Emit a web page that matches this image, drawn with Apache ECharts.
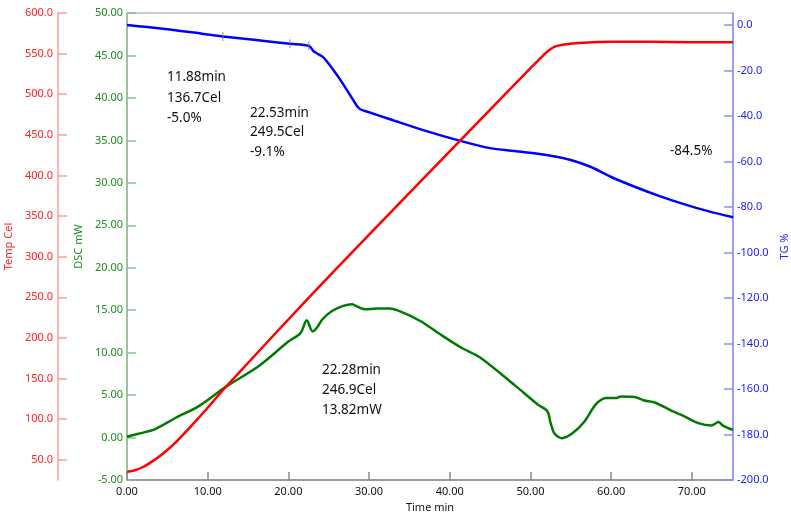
<!DOCTYPE html>
<html>
<head>
<meta charset="utf-8">
<script src="https://cdn.jsdelivr.net/npm/echarts@6/dist/echarts.min.js"></script>
<style>
  html, body { margin: 0; padding: 0; background: #fff; }
  #chart { width: 791px; height: 518px; }
</style>
</head>
<body>
<div id="chart"></div>
<script>
// Temperature (Cel) vs time
const tempTime = [0, 1, 2, 3, 4, 5, 6, 8, 10, 12, 22.53, 30, 41.4, 50, 51.5, 52.3, 53, 54, 56, 60, 65, 70, 75.1];
const tempVal = [35, 37, 41, 47, 54, 62, 71, 92, 114, 137, 249.5, 327, 444, 532, 547, 554, 558.5, 561, 563, 564.5, 564.5, 564, 564];

// DSC (mW) vs time
const dscTime = [0, 1.4, 3.5, 6, 8.9, 12.2, 16.3, 20, 21.5, 22.28, 23.0, 23.5, 24.2, 25.4, 26.8, 27.9, 28.6, 29.5, 31, 32.5, 34, 36.4, 38.9, 41.4, 43.8, 48, 50.9, 52.1, 52.5, 53, 53.9, 55.2, 56.7, 58.1, 59.4, 60.6, 61.2, 62.9, 64.1, 65.4, 67.5, 68.7, 70.8, 72.4, 72.8, 73.3, 73.9, 75.1];
const dscVal = [0.1, 0.44, 1.0, 2.3, 3.7, 5.95, 8.4, 11.3, 12.3, 13.82, 12.5, 12.9, 13.9, 14.9, 15.5, 15.7, 15.4, 15.1, 15.2, 15.2, 14.8, 13.7, 12.1, 10.6, 9.4, 6.2, 3.9, 3.1, 1.7, 0.44, -0.07, 0.5, 1.9, 3.9, 4.65, 4.65, 4.84, 4.77, 4.37, 4.13, 3.15, 2.68, 1.7, 1.42, 1.58, 1.82, 1.38, 0.9];

// TG (%) vs time
const tgTime = [0, 2.5, 5.3, 8, 11.88, 16, 20.2, 22.53, 23.1, 23.5, 24.3, 24.9, 25.6, 26.4, 27.2, 27.9, 28.5, 28.9, 29.7, 32.6, 36.7, 41.3, 45.0, 48, 52, 55, 57.5, 60, 63, 66, 69, 72, 75.1];
const tgVal = [0.0, -0.9, -2.0, -3.2, -5.0, -6.6, -8.2, -9.1, -11.4, -12.4, -14.1, -16.6, -19.9, -23.9, -28.3, -32.2, -35.6, -37.0, -38.0, -41.4, -46.2, -50.9, -54.1, -55.4, -57.1, -59.3, -62.4, -66.8, -71.2, -75.2, -78.7, -81.8, -84.5];

// step markers on the TG curve
const tgMarkTime = [11.88, 20.2, 22.53];
const tgMarkVal = [-5.0, -8.2, -9.1];

// tick labels
const timeTicks = [0, 10, 20, 30, 40, 50, 60, 70];
const tempTicks = [50, 100, 150, 200, 250, 300, 350, 400, 450, 500, 550, 600];
const tgTicks = [-200, -180, -160, -140, -120, -100, -80, -60, -40, -20, 0];

const FONT = "Noto Sans";
const pairs = (xs, ys) => xs.map((x, i) => [x, ys[i]]);

const chart = echarts.init(document.getElementById("chart"));

chart.setOption({
  animation: false,
  backgroundColor: "#fff",
  textStyle: { fontFamily: FONT },
  grid: {
    left: 127, right: 58, top: 13, bottom: 38,
    outerBoundsMode: "none",
    show: true, borderColor: "#9a9a9a", borderWidth: 1, backgroundColor: "transparent",
  },
  xAxis: {
    type: "value",
    min: 0, max: 75.1,
    name: "Time min",
    nameLocation: "middle",
    nameGap: 19,
    nameTextStyle: { color: "#111", fontSize: 11, fontFamily: FONT },
    axisLine: { show: true, onZero: false, lineStyle: { color: "#8a8a8a", width: 1.5 } },
    axisTick: { show: true, inside: true, length: 8, customValues: timeTicks, lineStyle: { color: "#8a8a8a", width: 1.5 } },
    axisLabel: {
      color: "#111", fontSize: 11, fontFamily: FONT, margin: 6,
      customValues: timeTicks,
      formatter: (v) => v.toFixed(2),
    },
    splitLine: { show: false },
  },
  yAxis: [
    {
      // DSC
      type: "value",
      position: "left",
      min: -5, max: 50, interval: 5,
      name: "DSC mW",
      nameLocation: "middle",
      nameRotate: 90,
      nameGap: 42,
      nameTextStyle: { color: "#1e8c1e", fontSize: 11, fontFamily: FONT },
      axisLine: { show: true, onZero: false, lineStyle: { color: "#88c488", width: 1.5 } },
      axisTick: { show: true, inside: true, length: 9, lineStyle: { color: "#88c488", width: 1.5 } },
      axisLabel: { color: "#1e8c1e", fontSize: 11, fontFamily: FONT, margin: 4, formatter: (v) => v.toFixed(2) },
      splitLine: { show: false },
    },
    {
      // Temp
      type: "value",
      position: "left",
      offset: 69,
      min: 25, max: 600,
      name: "Temp Cel",
      nameLocation: "middle",
      nameRotate: 90,
      nameGap: 42,
      nameTextStyle: { color: "#ff2020", fontSize: 11, fontFamily: FONT },
      axisLine: { show: true, onZero: false, lineStyle: { color: "#ff9a9a", width: 1.5 } },
      axisTick: { show: true, inside: true, length: 9, customValues: tempTicks, lineStyle: { color: "#ff9a9a", width: 1.5 } },
      axisLabel: {
        color: "#ff2020", fontSize: 11, fontFamily: FONT, margin: 5,
        customValues: tempTicks,
        formatter: (v) => v.toFixed(1),
      },
      splitLine: { show: false },
    },
    {
      // TG
      type: "value",
      position: "right",
      min: -200, max: 5.3,
      name: "TG %",
      nameLocation: "middle",
      nameRotate: 90,
      nameGap: 43,
      nameTextStyle: { color: "#2020ff", fontSize: 11, fontFamily: FONT },
      axisLine: { show: true, onZero: false, lineStyle: { color: "#8c8cff", width: 1.5 } },
      axisTick: { show: true, inside: true, length: 9, customValues: tgTicks, lineStyle: { color: "#8c8cff", width: 1.5 } },
      axisLabel: {
        color: "#2020ff", fontSize: 11, fontFamily: FONT, margin: 4,
        customValues: tgTicks,
        formatter: (v) => v.toFixed(1),
      },
      splitLine: { show: false },
    },
  ],
  series: [
    {
      name: "DSC",
      type: "line",
      yAxisIndex: 0,
      data: pairs(dscTime, dscVal),
      showSymbol: false,
      symbol: "none",
      smooth: 0.3,
      lineStyle: { color: "#007a00", width: 2.5 },
      z: 3,
    },
    {
      name: "TG",
      type: "line",
      yAxisIndex: 2,
      data: pairs(tgTime, tgVal),
      showSymbol: false,
      symbol: "none",
      smooth: 0.3,
      lineStyle: { color: "#0000ff", width: 2.5 },
      z: 3,
    },
    {
      name: "TG steps",
      type: "scatter",
      yAxisIndex: 2,
      data: pairs(tgMarkTime, tgMarkVal),
      symbol: "rect",
      symbolSize: [1, 9],
      itemStyle: { color: "#777" },
      z: 4,
    },
    {
      name: "Temp",
      type: "line",
      yAxisIndex: 1,
      data: pairs(tempTime, tempVal),
      showSymbol: false,
      symbol: "none",
      smooth: 0.3,
      lineStyle: { color: "#ff0000", width: 2.5 },
      z: 4,
    },
  ],
  graphic: [
    { type: "text", left: 167, top: 67, style: { text: "11.88min\n136.7Cel\n-5.0%", font: "13.5px " + FONT, fill: "#111", lineHeight: 20.5 } },
    { type: "text", left: 250, top: 103, style: { text: "22.53min\n249.5Cel\n-9.1%", font: "13.5px " + FONT, fill: "#111", lineHeight: 19.5 } },
    { type: "text", left: 322, top: 360, style: { text: "22.28min\n246.9Cel\n13.82mW", font: "13.5px " + FONT, fill: "#111", lineHeight: 20 } },
    { type: "text", left: 670, top: 141, style: { text: "-84.5%", font: "13.5px " + FONT, fill: "#111", lineHeight: 20 } },
  ],
});
</script>
</body>
</html>
